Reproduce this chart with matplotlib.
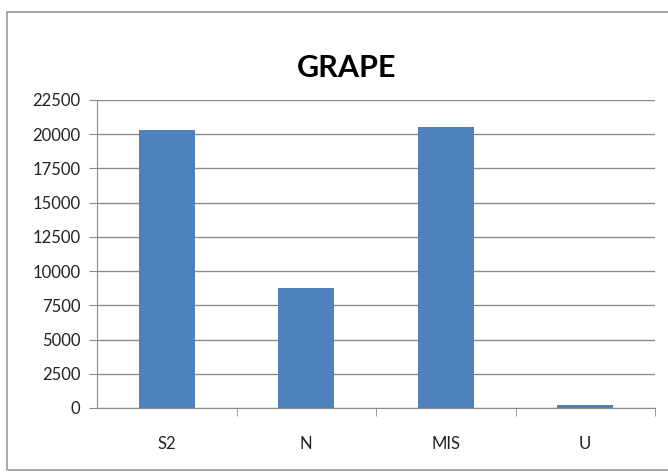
import matplotlib
matplotlib.use("Agg")
import matplotlib.pyplot as plt
from matplotlib.patches import Rectangle
from matplotlib.ticker import MultipleLocator, FixedLocator

categories = ["S2", "N", "MIS", "U"]
values = [20300, 8800, 20500, 200]
title = "GRAPE"

plt.rcParams['font.family'] = ['Lato', 'DejaVu Sans']

fig = plt.figure(figsize=(6.68, 4.72), dpi=100)
fig.patch.set_facecolor("white")

# outer chart frame
fig.add_artist(Rectangle((7 / 668, 2 / 472), 670 / 668, 458 / 472,
                         transform=fig.transFigure, fill=False,
                         edgecolor="#9a9a9a", linewidth=1.2))

ax = fig.add_axes([97 / 668, 64 / 472, 558 / 668, 308 / 472])
x = range(len(categories))
ax.bar(x, values, width=0.4, color="#4F81BD", zorder=3)

ax.set_xlim(-0.5, len(categories) - 0.5)
ax.set_ylim(0, 22500)
ax.yaxis.set_major_locator(MultipleLocator(2500))
ax.grid(axis="y", color="#8c8c8c", linewidth=1.0, zorder=0)

ax.set_xticks(list(x))
ax.set_xticklabels(categories, fontsize=12)
ax.tick_params(axis="x", which="major", length=0, pad=20)
ax.xaxis.set_minor_locator(FixedLocator([i + 0.5 for i in range(len(categories))]))
ax.tick_params(axis="x", which="minor", length=6, color="#8c8c8c", direction="out")
ax.tick_params(axis="y", length=6, color="#8c8c8c", labelsize=12, pad=6)
for lbl in ax.get_yticklabels() + ax.get_xticklabels():
    lbl.set_color("#222222")

for side in ("top", "right"):
    ax.spines[side].set_visible(False)
for side in ("left", "bottom"):
    ax.spines[side].set_color("#8c8c8c")

fig.text(347 / 668, 1 - 68 / 472, title, ha="center", va="center",
         fontsize=22, fontweight="bold")

fig.savefig("out.png", dpi=100)
